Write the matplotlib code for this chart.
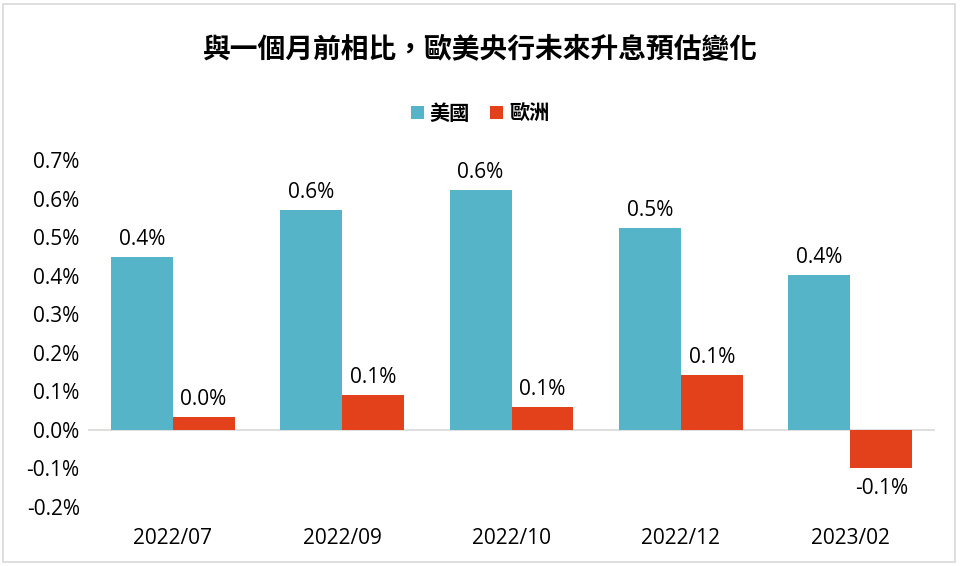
import matplotlib
matplotlib.use("Agg")
import matplotlib.pyplot as plt
from matplotlib.patches import Rectangle
import numpy as np

plt.rcParams['font.family'] = ['Open Sans', 'Noto Sans CJK TC', 'DejaVu Sans']

# data
categories = ['2022/07', '2022/09', '2022/10', '2022/12', '2023/02']
us_vals = [0.448, 0.570, 0.622, 0.523, 0.401]
eu_vals = [0.034, 0.091, 0.060, 0.143, -0.099]
series_names = ['美國', '歐洲']
title = '與一個月前相比，歐美央行未來升息預估變化'

us_color = '#55B4C8'
eu_color = '#E2411C'

fig = plt.figure(figsize=(9.6, 5.66), dpi=100)
ax = fig.add_axes([88 / 960, 1 - 507 / 566, (935 - 88) / 960, (507 - 160) / 566])

# outer border
fig.patches.append(Rectangle((3 / 960, 4 / 566), 952 / 960, 558 / 566,
                             transform=fig.transFigure, fill=False,
                             edgecolor='#D9D9D9', linewidth=1.2))

x = np.arange(len(categories))
w = 0.365
b1 = ax.bar(x - w / 2, us_vals, w, color=us_color, label=series_names[0])
b2 = ax.bar(x + w / 2, eu_vals, w, color=eu_color, label=series_names[1])

for bars, vals in [(b1, us_vals), (b2, eu_vals)]:
    for bar, v in zip(bars, vals):
        txt = f'{v:.1f}%'
        cx = bar.get_x() + bar.get_width() / 2
        if v >= 0:
            ax.annotate(txt, (cx, v), xytext=(0, 5), textcoords='offset points',
                        ha='center', va='bottom', fontsize=15)
        else:
            ax.annotate(txt, (cx, v), xytext=(0, -7), textcoords='offset points',
                        ha='center', va='top', fontsize=15)

ax.set_xlim(-0.5, len(categories) - 0.5)
ax.set_ylim(-0.2, 0.7)
yt = np.arange(-0.2, 0.71, 0.1)
ax.set_yticks(yt)
ax.set_yticklabels([f'{t:.1f}%' for t in yt], fontsize=15)
ax.set_xticks(x)
ax.set_xticklabels(categories, fontsize=15)
ax.tick_params(length=0)
ax.tick_params(axis='y', pad=6)
ax.tick_params(axis='x', pad=15)

for s in ax.spines.values():
    s.set_visible(False)
ax.axhline(0, color='#D9D9D9', linewidth=1.2, zorder=0)

fig.text(0.5, 1 - 50 / 566, title, ha='center', va='center',
         fontsize=20, fontweight='bold', family=['Noto Sans CJK TC', 'DejaVu Sans'])
fig.legend(handles=[b1, b2], loc='center', bbox_to_anchor=(0.5, 1 - 113 / 566),
           ncol=2, frameon=False, handlelength=0.65, handleheight=0.65,
           handletextpad=0.3, columnspacing=1.0,
           prop={'family': ['Noto Sans CJK TC', 'DejaVu Sans'], 'size': 14.5, 'weight': 'bold'})

fig.savefig('out.png', dpi=100)
